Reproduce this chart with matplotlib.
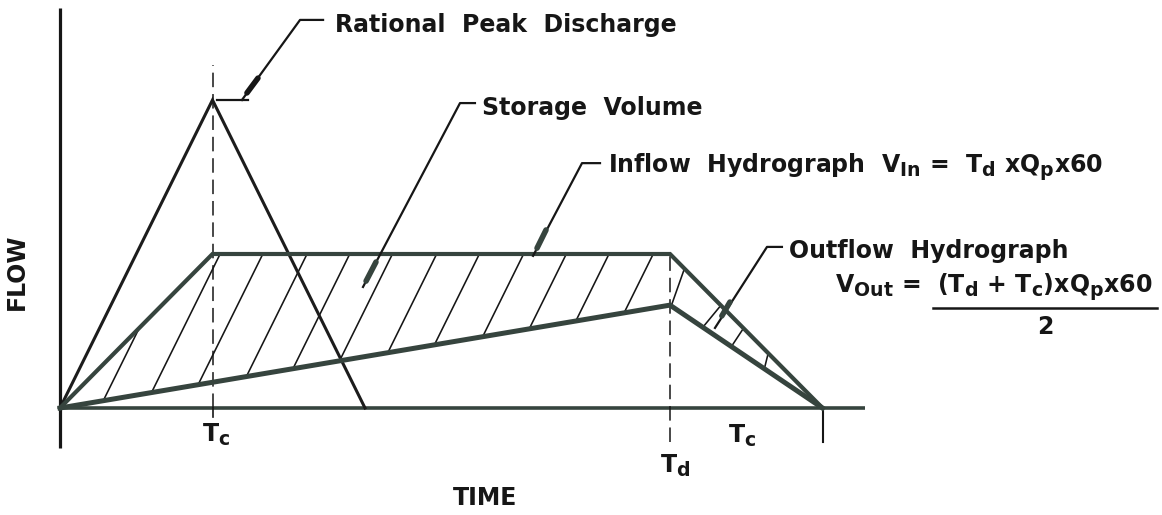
import numpy as np
import matplotlib.pyplot as plt
from matplotlib.patches import Polygon
import matplotlib._mathtext as mtext

plt.rcParams['font.family'] = ['DejaVu Sans']
plt.rcParams['mathtext.fontset'] = 'custom'
plt.rcParams['mathtext.rm'] = 'DejaVu Sans:bold'
plt.rcParams['mathtext.it'] = 'DejaVu Sans:bold'
plt.rcParams['mathtext.bf'] = 'DejaVu Sans:bold'
plt.rcParams['mathtext.default'] = 'rm'
# subscripts in the drawing are only a bit smaller than the letters
mtext.SHRINK_FACTOR = 0.8

# time in units of Tc, flow in units of rational peak
TC = 1.0
TD = 4.0
Q_PEAK = 1.0
Q_IN = 0.5
Q_OUT = 0.334

rational_t = [0, TC, 2 * TC]
rational_q = [0, Q_PEAK, 0]
inflow_t = [0, TC, TD, TD + TC]
inflow_q = [0, Q_IN, Q_IN, 0]
outflow_t = [0, TD, TD + TC]
outflow_q = [0, Q_OUT, 0]

# hatch lines of the storage volume (crossing point on the plateau, slope 1)
hatch_t = [0.76, 1.05, 1.33, 1.62, 1.90, 2.18, 2.47, 2.75, 3.04, 3.32, 3.60, 3.89]
# the few hatch strokes in the recession part
recess_t = [4.05, 4.27, 4.43, 4.63]
recess_q = [0.39, 0.295, 0.22, 0.15]
recess_slope = [1.4, 0.6, 0.75, 2.0]

ink = '#161616'
green = '#36443e'

fig = plt.figure(figsize=(11.62, 5.15), dpi=100)
ax = fig.add_axes([0, 0, 1, 1])
ax.set_xlim(-60 / 152.5, (1162 - 60) / 152.5)
ax.set_ylim((408 - 515) / 308, 408 / 308)
ax.axis('off')

# axes of the sketch
ax.plot([0, 0], [-0.13, 1.30], color=ink, lw=2.3, solid_capstyle='butt')
ax.plot([0, 5.28], [0, 0], color=green, lw=2.6, solid_capstyle='butt')
ax.plot([TD + TC, TD + TC], [0, -0.11], color=ink, lw=1.5)
ax.plot([TC, TC], [0, -0.03], color=ink, lw=1.2)
ax.plot([TC, TC], [0.0, 1.115], color=ink, lw=1.1, dashes=(9.5, 4.5))
ax.plot([TD, TD], [-0.11, Q_IN], color=ink, lw=1.1, dashes=(9.5, 4.5))

# storage hatching clipped to the area between inflow and outflow
storage = Polygon(list(zip(inflow_t, inflow_q)) + list(zip(outflow_t[::-1], outflow_q[::-1]))[1:],
                  closed=True, fill=False, edgecolor='none')
ax.add_patch(storage)
for t0 in hatch_t:
    xs = np.array([t0 - 1.0, t0 + 0.2])
    ln, = ax.plot(xs, Q_IN + (xs - t0), color=ink, lw=1.15)
    ln.set_clip_path(storage)
for t0, q0, s in zip(recess_t, recess_q, recess_slope):
    xs = np.array([t0 - 0.3, t0 + 0.3])
    ln, = ax.plot(xs, q0 + s * (xs - t0), color=ink, lw=1.15)
    ln.set_clip_path(storage)

# hydrographs
ax.plot(rational_t, rational_q, color='#1c1c1c', lw=2.2, solid_joinstyle='miter')
ax.plot(inflow_t, inflow_q, color=green, lw=3.0, solid_joinstyle='miter')
ax.plot(outflow_t, outflow_q, color=green, lw=3.6, solid_joinstyle='miter')

# leaders
ax.plot([1.03, 1.233], [Q_PEAK, Q_PEAK], color=ink, lw=1.6)
ax.plot([1.193, 1.574, 1.725], [1.0, 1.26, 1.26], color=ink, lw=1.6)
ax.plot([1.226, 1.298], [1.023, 1.071], color=ink, lw=4, solid_capstyle='round')

ax.plot([1.987, 2.623, 2.721], [0.393, 0.990, 0.990], color=ink, lw=1.6)
ax.plot([2.007, 2.072], [0.412, 0.474], color=green, lw=4, solid_capstyle='round')

ax.plot([3.102, 3.423, 3.541], [0.494, 0.795, 0.795], color=ink, lw=1.6)
ax.plot([3.128, 3.187], [0.519, 0.578], color=green, lw=4, solid_capstyle='round')

ax.plot([4.295, 4.636, 4.734], [0.26, 0.523, 0.523], color=ink, lw=1.6)
ax.plot([4.34, 4.393], [0.299, 0.344], color=green, lw=4, solid_capstyle='round')

fs = 17
kw = dict(color=ink, fontsize=fs, fontweight='bold')
ax.text(1.803, 1.221, 'Rational  Peak  Discharge', ha='left', va='baseline', **kw)
ax.text(2.767, 0.951, 'Storage  Volume', ha='left', va='baseline', **kw)
ax.text(3.593, 0.763, r'Inflow  Hydrograph  $V_{In}$ =  $T_d$ x$Q_p$x60',
        ha='left', va='baseline', **kw)
ax.text(4.780, 0.487, 'Outflow  Hydrograph', ha='left', va='baseline', **kw)
ax.text(5.082, 0.373, r'$V_{Out}$ =', ha='left', va='baseline', **kw)
ax.text(5.751, 0.373, r'($T_d$ + $T_c$)x$Q_p$x60', ha='left', va='baseline', **kw)
ax.plot([5.725, 7.193], [0.325, 0.325], color=ink, lw=1.8)
ax.text(6.459, 0.263, '2', ha='center', va='center', **kw)

ax.text(-0.282, 0.442, 'FLOW', rotation=90, ha='center', va='center', **kw)
ax.text(2.787, -0.293, 'TIME', ha='center', va='center', **kw)
ax.text(0.931, -0.110, r'$T_c$', ha='left', va='baseline', **kw)
ax.text(3.934, -0.211, r'$T_d$', ha='left', va='baseline', **kw)
ax.text(4.38, -0.114, r'$T_c$', ha='left', va='baseline', **kw)

fig.savefig('out.png', dpi=100, facecolor='white')
